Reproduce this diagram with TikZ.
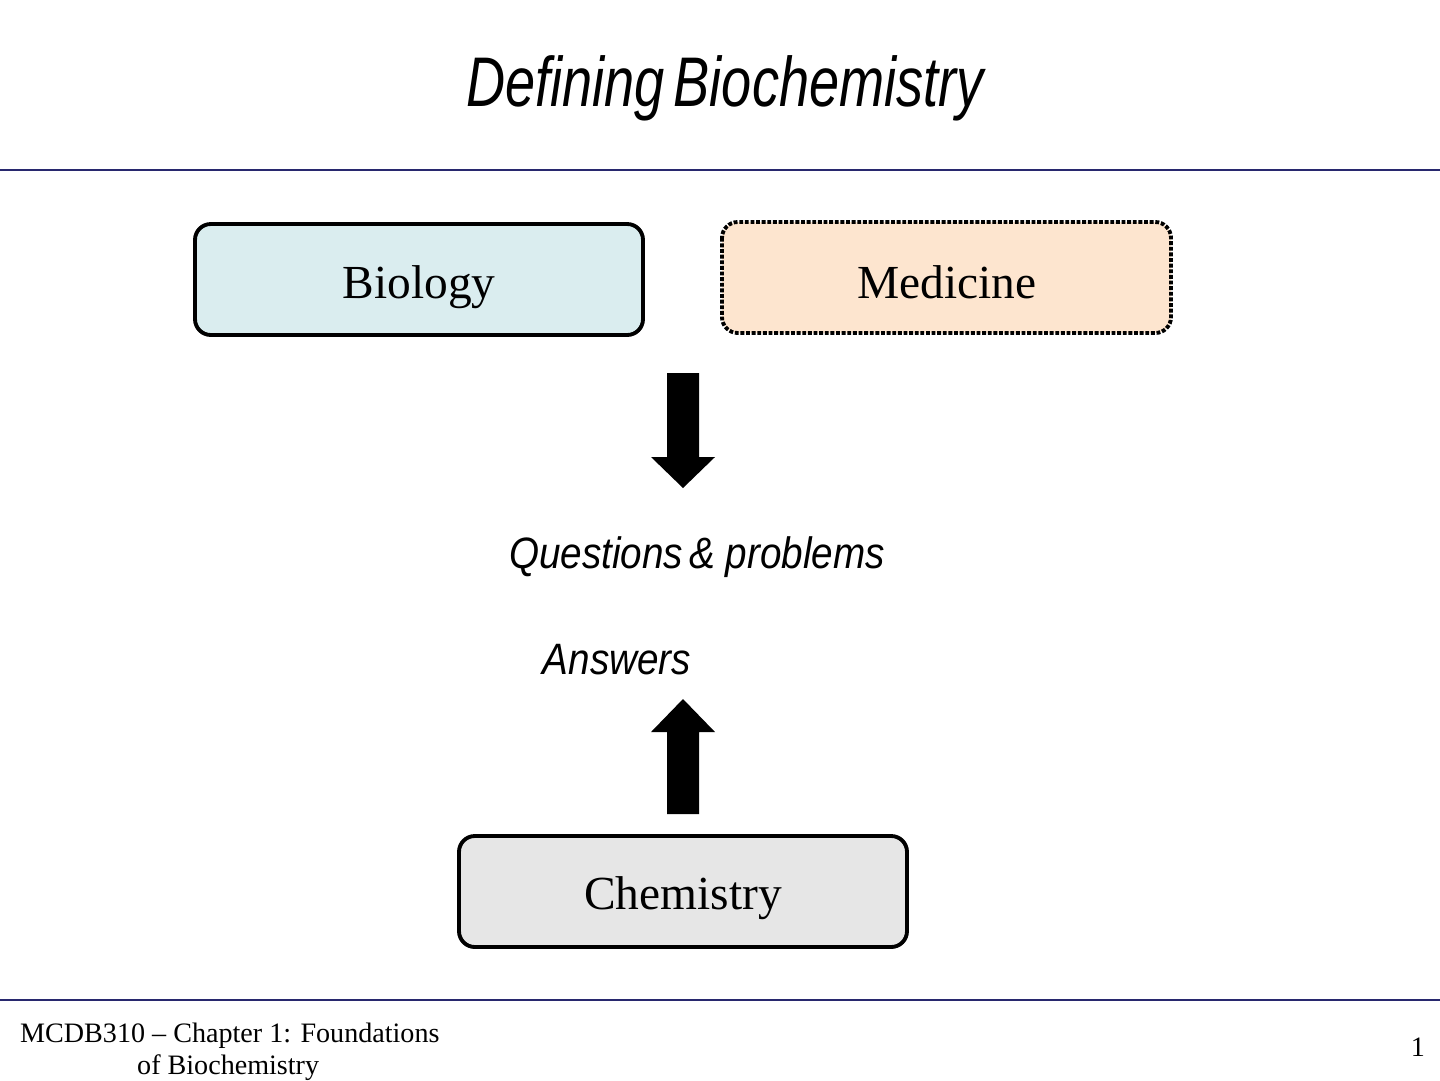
\documentclass[tikz,border=0pt]{standalone}
\usepackage{fontspec}
\setmainfont{Liberation Serif}
\newfontfamily\arial{Liberation Sans}
\begin{document}
\begin{tikzpicture}[x=0.02cm,y=-0.02cm,
  boxst/.style={draw=black,line width=2.2pt,rounded corners=9pt},
  fatarrow/.style={fill=black,draw=none},
  rule/.style={draw={rgb,255:red,40;green,40;blue,110},line width=1.5pt}]
\useasboundingbox (0,0) rectangle (1440,1080);
\node (title) at (725,88) {\scalebox{0.77}[1]{\arial\itshape\fontsize{40}{48}\selectfont Defining\,Biochemistry}};
\draw[rule] (0,170) -- (1440,170);
\draw[rule] (0,1000) -- (1440,1000);
\draw[boxst,fill={rgb,255:red,218;green,237;blue,239}] (195,224) rectangle (643,335);
\node (bio) at (419,287) {\fontsize{27}{32}\selectfont Biology};
\draw[boxst,densely dotted,fill={rgb,255:red,253;green,229;blue,207}] (722,222) rectangle (1171,333);
\node (med) at (947,282) {\fontsize{27}{32}\selectfont Medicine};
\draw[boxst,fill={rgb,255:red,230;green,230;blue,230}] (459,836) rectangle (907,947);
\node (chem) at (683,898) {\fontsize{27}{32}\selectfont Chemistry};
\fill[fatarrow] (667,373) -- (699,373) -- (699,457) -- (715,457) -- (683,488) -- (651,457) -- (667,457) -- cycle;
\fill[fatarrow] (667,814) -- (699,814) -- (699,732) -- (715,732) -- (683,699) -- (651,732) -- (667,732) -- cycle;
\node (q) at (697,557) {\scalebox{0.88}[1]{\arial\itshape\fontsize{25}{30}\selectfont Questions\,\&\ problems}};
\node (a) at (617,660) {\scalebox{0.88}[1]{\arial\itshape\fontsize{25}{30}\selectfont Answers}};
\node[anchor=west] (f1) at (14,1036) {\fontsize{16}{19}\selectfont MCDB310 – Chapter 1: Foundations};
\node[anchor=west] (f2) at (131,1068) {\fontsize{16}{19}\selectfont of Biochemistry};
\node (pg) at (1418,1047) {\fontsize{16}{19}\selectfont 1};
\end{tikzpicture}
\end{document}
